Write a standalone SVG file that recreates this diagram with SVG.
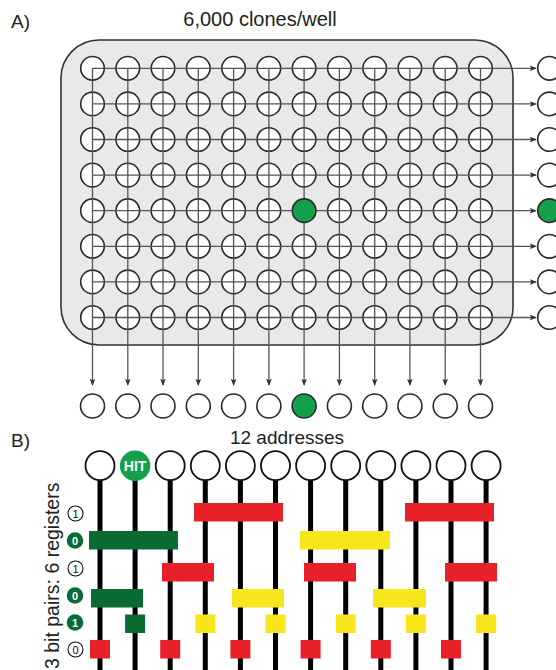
<svg xmlns="http://www.w3.org/2000/svg" width="556" height="670" viewBox="0 0 556 670">
<defs>
<marker id="ah" viewBox="0 0 8 8" refX="7" refY="4" markerWidth="7" markerHeight="7" markerUnits="userSpaceOnUse" orient="auto">
<path d="M0,0.8 L8,4 L0,7.2 L1.6,4 Z" fill="#333"/>
</marker>
<style>
.lbl{font-family:"Liberation Sans",Arial,sans-serif;fill:#222}
.well{fill:#fff;stroke:#2a2a2a;stroke-width:1.6}
.hit{fill:#14a04b}
.grid{stroke:#666;stroke-width:1.3;fill:none}
.arr{stroke:#555;stroke-width:1.3;fill:none;marker-end:url(#ah)}
.addr{fill:#fff;stroke:#111;stroke-width:1.8}
.wire{stroke:#000;stroke-width:5}
.red{fill:#e8202a}
.yel{fill:#f7e61b}
.grn{fill:#0b6b35}
.bit{font-family:"Liberation Sans",Arial,sans-serif;font-size:11px;text-anchor:middle}
</style>
</defs>

<text class="lbl" x="11" y="28" font-size="19">A)</text>
<text class="lbl" x="260" y="26" font-size="20" text-anchor="middle" fill="#333">6,000 clones/well</text>

<g id="plate">
<rect x="61" y="40" width="452" height="305" rx="38" ry="38" fill="#e9e9e9" stroke="#333" stroke-width="1.6"/>
</g>

<g id="wells">
<g id="row0">
<circle class="well" cx="92.5" cy="68.3" r="11.8"/><circle class="well" cx="127.8" cy="68.3" r="11.8"/><circle class="well" cx="163" cy="68.3" r="11.8"/><circle class="well" cx="198.3" cy="68.3" r="11.8"/><circle class="well" cx="233.6" cy="68.3" r="11.8"/><circle class="well" cx="268.9" cy="68.3" r="11.8"/><circle class="well" cx="304.1" cy="68.3" r="11.8"/><circle class="well" cx="339.4" cy="68.3" r="11.8"/><circle class="well" cx="374.7" cy="68.3" r="11.8"/><circle class="well" cx="409.9" cy="68.3" r="11.8"/><circle class="well" cx="445.2" cy="68.3" r="11.8"/><circle class="well" cx="480.5" cy="68.3" r="11.8"/>
</g>
<g id="row1">
<circle class="well" cx="92.5" cy="103.9" r="11.8"/><circle class="well" cx="127.8" cy="103.9" r="11.8"/><circle class="well" cx="163" cy="103.9" r="11.8"/><circle class="well" cx="198.3" cy="103.9" r="11.8"/><circle class="well" cx="233.6" cy="103.9" r="11.8"/><circle class="well" cx="268.9" cy="103.9" r="11.8"/><circle class="well" cx="304.1" cy="103.9" r="11.8"/><circle class="well" cx="339.4" cy="103.9" r="11.8"/><circle class="well" cx="374.7" cy="103.9" r="11.8"/><circle class="well" cx="409.9" cy="103.9" r="11.8"/><circle class="well" cx="445.2" cy="103.9" r="11.8"/><circle class="well" cx="480.5" cy="103.9" r="11.8"/>
</g>
<g id="row2">
<circle class="well" cx="92.5" cy="139.5" r="11.8"/><circle class="well" cx="127.8" cy="139.5" r="11.8"/><circle class="well" cx="163" cy="139.5" r="11.8"/><circle class="well" cx="198.3" cy="139.5" r="11.8"/><circle class="well" cx="233.6" cy="139.5" r="11.8"/><circle class="well" cx="268.9" cy="139.5" r="11.8"/><circle class="well" cx="304.1" cy="139.5" r="11.8"/><circle class="well" cx="339.4" cy="139.5" r="11.8"/><circle class="well" cx="374.7" cy="139.5" r="11.8"/><circle class="well" cx="409.9" cy="139.5" r="11.8"/><circle class="well" cx="445.2" cy="139.5" r="11.8"/><circle class="well" cx="480.5" cy="139.5" r="11.8"/>
</g>
<g id="row3">
<circle class="well" cx="92.5" cy="175.1" r="11.8"/><circle class="well" cx="127.8" cy="175.1" r="11.8"/><circle class="well" cx="163" cy="175.1" r="11.8"/><circle class="well" cx="198.3" cy="175.1" r="11.8"/><circle class="well" cx="233.6" cy="175.1" r="11.8"/><circle class="well" cx="268.9" cy="175.1" r="11.8"/><circle class="well" cx="304.1" cy="175.1" r="11.8"/><circle class="well" cx="339.4" cy="175.1" r="11.8"/><circle class="well" cx="374.7" cy="175.1" r="11.8"/><circle class="well" cx="409.9" cy="175.1" r="11.8"/><circle class="well" cx="445.2" cy="175.1" r="11.8"/><circle class="well" cx="480.5" cy="175.1" r="11.8"/>
</g>
<g id="row4">
<circle class="well" cx="92.5" cy="210.7" r="11.8"/><circle class="well" cx="127.8" cy="210.7" r="11.8"/><circle class="well" cx="163" cy="210.7" r="11.8"/><circle class="well" cx="198.3" cy="210.7" r="11.8"/><circle class="well" cx="233.6" cy="210.7" r="11.8"/><circle class="well" cx="268.9" cy="210.7" r="11.8"/><circle class="well" cx="339.4" cy="210.7" r="11.8"/><circle class="well" cx="374.7" cy="210.7" r="11.8"/><circle class="well" cx="409.9" cy="210.7" r="11.8"/><circle class="well" cx="445.2" cy="210.7" r="11.8"/><circle class="well" cx="480.5" cy="210.7" r="11.8"/>
</g>
<g id="row5">
<circle class="well" cx="92.5" cy="246.3" r="11.8"/><circle class="well" cx="127.8" cy="246.3" r="11.8"/><circle class="well" cx="163" cy="246.3" r="11.8"/><circle class="well" cx="198.3" cy="246.3" r="11.8"/><circle class="well" cx="233.6" cy="246.3" r="11.8"/><circle class="well" cx="268.9" cy="246.3" r="11.8"/><circle class="well" cx="304.1" cy="246.3" r="11.8"/><circle class="well" cx="339.4" cy="246.3" r="11.8"/><circle class="well" cx="374.7" cy="246.3" r="11.8"/><circle class="well" cx="409.9" cy="246.3" r="11.8"/><circle class="well" cx="445.2" cy="246.3" r="11.8"/><circle class="well" cx="480.5" cy="246.3" r="11.8"/>
</g>
<g id="row6">
<circle class="well" cx="92.5" cy="281.9" r="11.8"/><circle class="well" cx="127.8" cy="281.9" r="11.8"/><circle class="well" cx="163" cy="281.9" r="11.8"/><circle class="well" cx="198.3" cy="281.9" r="11.8"/><circle class="well" cx="233.6" cy="281.9" r="11.8"/><circle class="well" cx="268.9" cy="281.9" r="11.8"/><circle class="well" cx="304.1" cy="281.9" r="11.8"/><circle class="well" cx="339.4" cy="281.9" r="11.8"/><circle class="well" cx="374.7" cy="281.9" r="11.8"/><circle class="well" cx="409.9" cy="281.9" r="11.8"/><circle class="well" cx="445.2" cy="281.9" r="11.8"/><circle class="well" cx="480.5" cy="281.9" r="11.8"/>
</g>
<g id="row7">
<circle class="well" cx="92.5" cy="317.5" r="11.8"/><circle class="well" cx="127.8" cy="317.5" r="11.8"/><circle class="well" cx="163" cy="317.5" r="11.8"/><circle class="well" cx="198.3" cy="317.5" r="11.8"/><circle class="well" cx="233.6" cy="317.5" r="11.8"/><circle class="well" cx="268.9" cy="317.5" r="11.8"/><circle class="well" cx="304.1" cy="317.5" r="11.8"/><circle class="well" cx="339.4" cy="317.5" r="11.8"/><circle class="well" cx="374.7" cy="317.5" r="11.8"/><circle class="well" cx="409.9" cy="317.5" r="11.8"/><circle class="well" cx="445.2" cy="317.5" r="11.8"/><circle class="well" cx="480.5" cy="317.5" r="11.8"/>
</g>
</g>

<g id="connectors-A">
<line class="arr" x1="92.5" y1="68.3" x2="536" y2="68.3"/>
<line class="arr" x1="92.5" y1="103.9" x2="536" y2="103.9"/>
<line class="arr" x1="92.5" y1="139.5" x2="536" y2="139.5"/>
<line class="arr" x1="92.5" y1="175.1" x2="536" y2="175.1"/>
<line class="arr" x1="92.5" y1="210.7" x2="536" y2="210.7"/>
<line class="arr" x1="92.5" y1="246.3" x2="536" y2="246.3"/>
<line class="arr" x1="92.5" y1="281.9" x2="536" y2="281.9"/>
<line class="arr" x1="92.5" y1="317.5" x2="536" y2="317.5"/>
<line class="arr" x1="92.5" y1="68.3" x2="92.5" y2="385"/>
<line class="arr" x1="127.8" y1="68.3" x2="127.8" y2="385"/>
<line class="arr" x1="163" y1="68.3" x2="163" y2="385"/>
<line class="arr" x1="198.3" y1="68.3" x2="198.3" y2="385"/>
<line class="arr" x1="233.6" y1="68.3" x2="233.6" y2="385"/>
<line class="arr" x1="268.9" y1="68.3" x2="268.9" y2="385"/>
<line class="arr" x1="304.1" y1="68.3" x2="304.1" y2="385"/>
<line class="arr" x1="339.4" y1="68.3" x2="339.4" y2="385"/>
<line class="arr" x1="374.7" y1="68.3" x2="374.7" y2="385"/>
<line class="arr" x1="409.9" y1="68.3" x2="409.9" y2="385"/>
<line class="arr" x1="445.2" y1="68.3" x2="445.2" y2="385"/>
<line class="arr" x1="480.5" y1="68.3" x2="480.5" y2="385"/>
</g>

<g id="hit-well">
<circle class="well hit" cx="304.1" cy="210.7" r="11.8"/>
</g>

<g id="row-pools">
<circle class="well" cx="549.5" cy="68.3" r="11.8"/>
<circle class="well" cx="549.5" cy="103.9" r="11.8"/>
<circle class="well" cx="549.5" cy="139.5" r="11.8"/>
<circle class="well" cx="549.5" cy="175.1" r="11.8"/>
<circle class="well hit" cx="549.5" cy="210.7" r="11.8"/>
<circle class="well" cx="549.5" cy="246.3" r="11.8"/>
<circle class="well" cx="549.5" cy="281.9" r="11.8"/>
<circle class="well" cx="549.5" cy="317.5" r="11.8"/>
</g>

<g id="column-pools">
<circle class="well" cx="92.5" cy="406" r="12"/>
<circle class="well" cx="127.8" cy="406" r="12"/>
<circle class="well" cx="163" cy="406" r="12"/>
<circle class="well" cx="198.3" cy="406" r="12"/>
<circle class="well" cx="233.6" cy="406" r="12"/>
<circle class="well" cx="268.9" cy="406" r="12"/>
<circle class="well hit" cx="304.1" cy="406" r="12"/>
<circle class="well" cx="339.4" cy="406" r="12"/>
<circle class="well" cx="374.7" cy="406" r="12"/>
<circle class="well" cx="409.9" cy="406" r="12"/>
<circle class="well" cx="445.2" cy="406" r="12"/>
<circle class="well" cx="480.5" cy="406" r="12"/>
</g>

<text class="lbl" x="11" y="447" font-size="19">B)</text>
<text class="lbl" x="287" y="444" font-size="19" text-anchor="middle" fill="#111">12 addresses</text>

<g id="wires">
<line class="wire" x1="100" y1="478" x2="100" y2="670"/>
<line class="wire" x1="135.1" y1="478" x2="135.1" y2="670"/>
<line class="wire" x1="170.2" y1="478" x2="170.2" y2="670"/>
<line class="wire" x1="205.3" y1="478" x2="205.3" y2="670"/>
<line class="wire" x1="240.4" y1="478" x2="240.4" y2="670"/>
<line class="wire" x1="275.5" y1="478" x2="275.5" y2="670"/>
<line class="wire" x1="310.6" y1="478" x2="310.6" y2="670"/>
<line class="wire" x1="345.7" y1="478" x2="345.7" y2="670"/>
<line class="wire" x1="380.8" y1="478" x2="380.8" y2="670"/>
<line class="wire" x1="415.9" y1="478" x2="415.9" y2="670"/>
<line class="wire" x1="451" y1="478" x2="451" y2="670"/>
<line class="wire" x1="486.1" y1="478" x2="486.1" y2="670"/>
</g>

<g id="addresses">
<circle class="addr" cx="100" cy="465.7" r="14.5"/>
<g id="hit"><circle class="hit" cx="135.1" cy="465.7" r="15.2"/>
<text x="135.1" y="470.6" font-family="Liberation Sans,Arial,sans-serif" font-weight="bold" font-size="14" fill="#fff" text-anchor="middle">HIT</text></g>
<circle class="addr" cx="170.2" cy="465.7" r="14.5"/>
<circle class="addr" cx="205.3" cy="465.7" r="14.5"/>
<circle class="addr" cx="240.4" cy="465.7" r="14.5"/>
<circle class="addr" cx="275.5" cy="465.7" r="14.5"/>
<circle class="addr" cx="310.6" cy="465.7" r="14.5"/>
<circle class="addr" cx="345.7" cy="465.7" r="14.5"/>
<circle class="addr" cx="380.8" cy="465.7" r="14.5"/>
<circle class="addr" cx="415.9" cy="465.7" r="14.5"/>
<circle class="addr" cx="451" cy="465.7" r="14.5"/>
<circle class="addr" cx="486.1" cy="465.7" r="14.5"/>
</g>

<g id="registers">
<g id="reg1">
<rect class="red" x="194" y="503" width="89" height="18.5"/>
<rect class="red" x="405" y="503" width="89" height="18.5"/>
</g>
<g id="reg2">
<rect class="grn" x="89" y="531" width="89" height="18.5"/>
<rect class="yel" x="300" y="531" width="90" height="18.5"/>
</g>
<g id="reg3">
<rect class="red" x="162" y="563" width="52" height="18.5"/>
<rect class="red" x="304" y="563" width="52" height="18.5"/>
<rect class="red" x="445" y="563" width="52" height="18.5"/>
</g>
<g id="reg4">
<rect class="grn" x="91" y="589" width="52" height="18.5"/>
<rect class="yel" x="232" y="589" width="52" height="18.5"/>
<rect class="yel" x="373" y="589" width="53" height="18.5"/>
</g>
<g id="reg5">
<rect class="grn" x="125.1" y="614.5" width="20" height="18.5"/>
<rect class="yel" x="195.3" y="614.5" width="20" height="18.5"/>
<rect class="yel" x="265.5" y="614.5" width="20" height="18.5"/>
<rect class="yel" x="335.7" y="614.5" width="20" height="18.5"/>
<rect class="yel" x="405.9" y="614.5" width="20" height="18.5"/>
<rect class="yel" x="476.1" y="614.5" width="20" height="18.5"/>
</g>
<g id="reg6">
<rect class="red" x="90" y="640" width="20" height="18.5"/>
<rect class="red" x="160.2" y="640" width="20" height="18.5"/>
<rect class="red" x="230.4" y="640" width="20" height="18.5"/>
<rect class="red" x="300.6" y="640" width="20" height="18.5"/>
<rect class="red" x="370.8" y="640" width="20" height="18.5"/>
<rect class="red" x="441" y="640" width="20" height="18.5"/>
</g>
</g>

<g id="bit-labels">
<circle cx="75.5" cy="513.5" r="7.5" fill="#fff" stroke="#111" stroke-width="1.1"/>
<text class="bit" x="75.5" y="517.5" fill="#111">1</text>
<circle cx="75" cy="540.5" r="8.3" class="grn"/>
<text class="bit" x="75" y="544.5" fill="#fff" font-weight="bold">0</text>
<circle cx="75.5" cy="568.5" r="7.5" fill="#fff" stroke="#111" stroke-width="1.1"/>
<text class="bit" x="75.5" y="572.5" fill="#111">1</text>
<circle cx="75" cy="595.5" r="8.3" class="grn"/>
<text class="bit" x="75" y="599.5" fill="#fff" font-weight="bold">0</text>
<circle cx="75" cy="622.5" r="8.3" class="grn"/>
<text class="bit" x="75" y="626.5" fill="#fff" font-weight="bold">1</text>
<circle cx="75.5" cy="649.5" r="7.5" fill="#fff" stroke="#111" stroke-width="1.1"/>
<text class="bit" x="75.5" y="653.5" fill="#111">0</text>
</g>

<text class="lbl" transform="translate(59,669) rotate(-90)" font-size="19.5" fill="#111">3 bit pairs: 6 registers</text>
</svg>
